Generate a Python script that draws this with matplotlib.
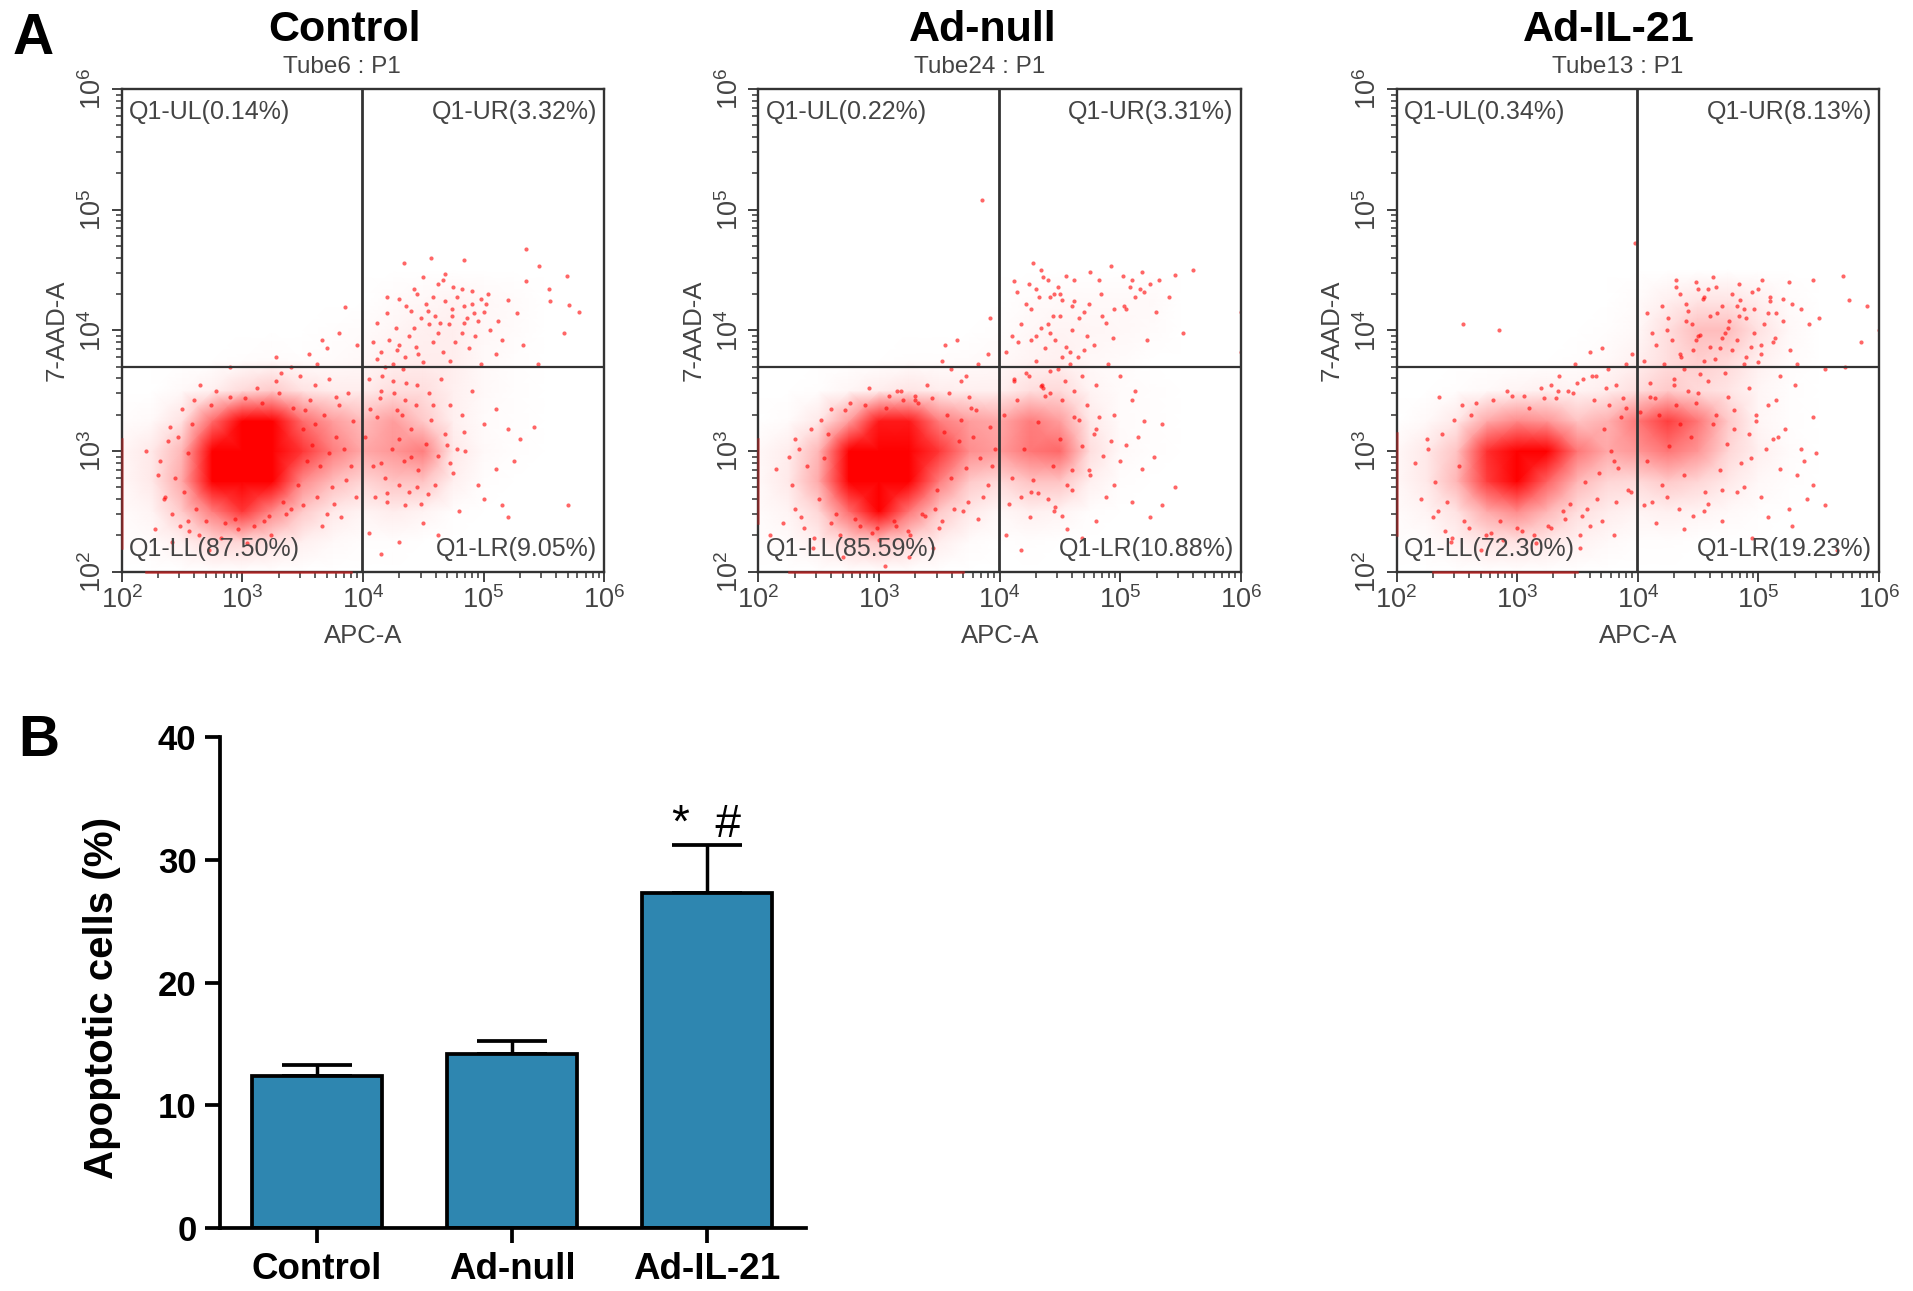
import numpy as np
import matplotlib
matplotlib.use("Agg")
import matplotlib.pyplot as plt
from matplotlib.colors import LinearSegmentedColormap
from matplotlib.ticker import LogLocator, FixedLocator, FixedFormatter, NullFormatter

plt.rcParams['font.family'] = ['Liberation Sans', 'DejaVu Sans']
plt.rcParams['mathtext.default'] = 'regular'

W, H = 1913, 1291

# Panel A. Every event of the original cannot be read off the picture, so the
# packed clouds are a coarse density table read by eye (log10 positions) and
# the dots are the ones that can be made out individually (also log10).
grid_x = [2.0, 2.25, 2.5, 2.75, 3.0, 3.25, 3.5, 3.75, 4.0, 4.25, 4.5, 4.75, 5.0, 5.25, 5.5]
grid_y = [2.0, 2.25, 2.5, 2.75, 3.0, 3.25, 3.5, 3.75, 4.0, 4.25, 4.5]

control_density = [
    [0, 0, 0, 0, 0, 0, 0, 0, 0, 0, 0, 0, 0, 0, 0],
    [1, 2, 8, 20, 22, 16, 8, 3, 1, 1, 0, 0, 0, 0, 0],
    [2, 6, 26, 50, 70, 46, 26, 12, 6, 10, 6, 1, 0, 0, 0],
    [4, 12, 36, 95, 100, 100, 46, 30, 22, 28, 28, 8, 1, 0, 0],
    [5, 12, 32, 100, 100, 100, 70, 50, 36, 42, 50, 12, 3, 1, 0],
    [1, 3, 16, 55, 100, 90, 55, 40, 30, 40, 26, 8, 2, 1, 0],
    [0, 0, 3, 8, 20, 26, 16, 10, 10, 18, 18, 8, 3, 1, 0],
    [0, 0, 0, 0, 1, 2, 1, 2, 4, 8, 10, 9, 3, 1, 0],
    [0, 0, 0, 0, 0, 0, 0, 1, 2, 5, 8, 9, 4, 2, 0],
    [0, 0, 0, 0, 0, 0, 0, 0, 0, 2, 4, 6, 4, 2, 0],
    [0, 0, 0, 0, 0, 0, 0, 0, 0, 0, 0, 0, 0, 0, 0],
]
adnull_density = [
    [0, 0, 0, 0, 0, 0, 0, 0, 0, 0, 0, 0, 0, 0, 0],
    [1, 2, 9, 22, 28, 20, 9, 2, 0, 1, 0, 0, 0, 0, 0],
    [2, 6, 22, 55, 85, 52, 26, 12, 4, 8, 6, 1, 0, 0, 0],
    [3, 12, 36, 90, 100, 100, 50, 26, 20, 28, 28, 8, 1, 0, 0],
    [4, 10, 32, 90, 100, 100, 70, 45, 40, 52, 56, 18, 3, 1, 0],
    [0, 2, 12, 40, 78, 78, 50, 40, 36, 50, 40, 12, 2, 1, 0],
    [0, 0, 1, 5, 10, 14, 10, 8, 8, 18, 20, 6, 2, 1, 0],
    [0, 0, 0, 0, 0, 1, 1, 2, 3, 6, 8, 4, 2, 0, 0],
    [0, 0, 0, 0, 0, 0, 0, 0, 1, 4, 6, 5, 4, 2, 0],
    [0, 0, 0, 0, 0, 0, 0, 0, 0, 2, 3, 3, 3, 3, 0],
    [0, 0, 0, 0, 0, 0, 0, 0, 0, 0, 0, 0, 0, 0, 0],
]
il21_density = [
    [0, 0, 0, 0, 0, 0, 0, 0, 0, 0, 0, 0, 0, 0, 0],
    [1, 1, 7, 14, 16, 12, 7, 3, 1, 1, 0, 0, 0, 0, 0],
    [2, 6, 16, 36, 46, 32, 18, 10, 6, 8, 6, 3, 1, 0, 0],
    [4, 12, 32, 68, 85, 58, 32, 22, 20, 26, 22, 12, 4, 1, 0],
    [4, 12, 28, 72, 95, 85, 52, 36, 42, 52, 42, 22, 8, 2, 0],
    [0, 3, 12, 36, 46, 42, 28, 34, 52, 68, 52, 26, 5, 1, 0],
    [0, 0, 1, 3, 6, 8, 6, 10, 18, 26, 20, 14, 5, 1, 0],
    [0, 0, 0, 0, 0, 0, 1, 3, 8, 18, 24, 20, 8, 2, 0],
    [0, 0, 0, 0, 0, 0, 0, 1, 4, 18, 30, 30, 16, 4, 0],
    [0, 0, 0, 0, 0, 0, 0, 0, 2, 8, 14, 14, 8, 2, 0],
    [0, 0, 0, 0, 0, 0, 0, 0, 0, 0, 0, 0, 0, 0, 0],
]

control_x = [5.35, 4.56, 4.84, 4.34, 5.46, 5.69, 4.68, 5.35, 5.54, 5.79, 5.55, 5.71, 5.67, 5.00, 5.28, 4.84, 4.62, 4.75,
             4.90, 4.45, 4.52, 4.30, 4.20, 4.12, 4.27, 4.38, 4.60, 4.71, 4.82, 4.95, 5.05, 5.15, 4.58, 4.66, 4.44, 4.35,
             4.25, 4.50, 4.72, 4.88, 5.10, 5.20, 4.98, 4.78, 4.55, 4.40, 4.15, 4.08, 4.22, 4.33, 4.48, 4.62, 4.74, 4.86,
             5.02, 4.93, 4.68, 4.42, 4.30, 4.18, 5.33, 5.45, 4.05, 4.15, 4.25, 4.35, 4.45, 4.55, 4.65, 4.72, 4.82, 4.90,
             5.00, 5.10, 5.20, 5.30, 5.42, 5.25, 5.10, 4.95, 5.00, 5.15, 5.20, 5.70, 4.80, 4.50, 4.62, 4.30, 4.15, 4.05,
             4.35, 4.20, 4.45, 4.60, 4.75, 4.85, 4.70, 4.40, 4.15, 4.30, 2.20, 2.30, 2.40, 2.35, 2.50, 2.60, 2.65, 2.90,
             3.32, 3.40, 3.55, 3.70, 3.85, 3.60, 3.72, 3.28, 3.95, 3.80, 3.48, 3.66, 2.28, 2.55, 2.42, 2.72, 3.62, 3.78,
             2.32, 2.38, 2.44, 2.47, 2.52, 2.55, 2.58, 2.62, 2.36, 2.42,
             2.48, 2.56, 2.64, 2.70, 2.74, 2.82, 2.90, 2.96, 3.04, 3.12,
             3.18, 3.24, 3.30, 3.36, 3.42, 3.50, 3.56, 3.62, 3.68, 3.74,
             3.80, 3.86, 3.92, 3.50, 3.58, 3.64, 3.72, 3.78, 3.84, 3.90,
             3.46, 3.54, 3.60, 3.70, 3.76, 3.88, 3.94, 3.52, 3.66, 3.82,
             2.78, 2.86, 2.94, 3.02, 3.10, 3.16, 3.22, 3.28, 3.34, 3.40,
             4.02, 4.08, 4.12, 4.18, 4.24, 4.28, 4.34, 4.40, 4.46, 4.52,
             4.56, 4.62, 4.68, 4.72, 4.78, 4.84, 4.10, 4.20, 4.30, 4.38,
             4.48, 4.54, 4.14, 4.26, 4.36, 4.44, 4.06, 4.16, 4.32, 4.58,
             4.42, 4.50, 4.58, 4.66, 4.74, 4.82, 4.90, 4.98, 4.36, 4.46,
             4.54, 4.64, 4.76, 4.84, 4.92, 5.04, 5.12, 4.28, 4.20, 4.12]
control_y = [4.67, 4.60, 4.58, 4.56, 4.53, 4.45, 4.47, 4.41, 4.34, 4.15, 4.24, 4.21, 3.98, 4.15, 4.14, 4.20, 4.38, 4.36,
             4.33, 4.30, 4.22, 4.26, 4.14, 4.06, 4.02, 3.95, 4.12, 4.05, 3.98, 4.08, 4.00, 3.92, 3.90, 3.82, 3.86, 3.78,
             3.72, 3.74, 3.75, 3.85, 3.80, 4.25, 3.72, 4.28, 4.05, 4.16, 3.82, 3.90, 3.92, 3.68, 4.10, 3.98, 4.18, 4.10,
             4.22, 3.95, 4.24, 4.02, 3.88, 3.70, 3.88, 3.72, 3.60, 3.50, 3.58, 3.42, 3.55, 3.48, 3.60, 3.38, 3.30, 3.50,
             3.22, 3.35, 3.18, 3.10, 3.20, 2.92, 2.85, 2.72, 2.60, 2.55, 2.45, 2.55, 2.50, 2.40, 2.30, 2.25, 2.15, 2.32,
             2.55, 2.65, 2.70, 2.72, 2.82, 3.00, 3.05, 2.95, 2.90, 3.10, 3.00, 2.80, 3.20, 2.60, 3.35, 3.42, 3.55, 3.70,
             3.65, 3.70, 3.80, 3.85, 4.19, 3.55, 3.60, 3.78, 3.88, 3.98, 3.62, 3.92, 2.35, 2.42, 2.25, 2.18, 3.72, 3.45,
             2.92, 3.08, 2.78, 3.12, 2.66, 2.98, 3.22, 2.52, 2.62, 2.48,
             2.38, 2.34, 2.30, 2.42, 3.38, 2.28, 3.45, 2.35, 2.24, 3.52,
             2.42, 2.30, 3.48, 2.48, 3.36, 2.55, 3.42, 2.62, 3.30, 2.70,
             3.38, 2.76, 3.25, 3.18, 3.05, 2.88, 2.98, 3.12, 3.02, 2.88,
             2.72, 2.92, 3.22, 2.48, 2.56, 3.48, 2.62, 3.34, 2.38, 2.45,
             3.50, 2.40, 2.44, 3.44, 2.38, 3.40, 2.46, 3.58, 2.58, 2.52,
             3.12, 2.88, 3.28, 2.78, 3.02, 3.34, 2.92, 3.18, 2.84, 3.06,
             3.26, 2.96, 3.14, 2.90, 3.02, 3.16, 2.62, 2.58, 2.72, 2.66,
             2.56, 2.64, 3.44, 3.48, 3.56, 3.38, 3.35, 3.62, 3.30, 3.38,
             4.34, 4.44, 4.28, 4.42, 4.12, 4.34, 4.22, 4.26, 4.20, 3.80,
             4.16, 4.06, 3.90, 4.06, 4.14, 4.30, 4.08, 3.84, 4.28, 3.76]

adnull_x = [3.85, 3.92, 4.12, 4.24, 4.28, 4.34, 4.40, 4.45, 4.48, 4.55, 4.62, 4.75, 4.82, 4.92, 5.02, 5.10, 5.18, 5.25, 5.32,
            5.45, 5.60, 6.00, 5.20, 5.12, 5.03, 4.95, 4.85, 4.70, 4.62, 4.52, 4.42, 4.33, 4.26, 4.18, 4.10, 4.05, 4.15,
            4.30, 4.40, 4.50, 4.60, 4.72, 4.88, 5.05, 5.30, 5.40, 5.52, 4.38, 4.46, 4.55, 4.65, 4.78, 4.90, 4.30, 4.22,
            4.12, 4.35, 4.48, 4.58, 4.68, 4.80, 5.00, 5.12, 6.00, 4.42, 4.52, 4.62, 4.72, 4.82, 4.95, 5.10, 5.20, 5.35,
            5.05, 5.15, 5.28, 5.45, 4.95, 5.10, 5.25, 5.35, 5.18, 5.00, 4.75, 4.60, 4.40, 4.25, 4.05, 4.18, 4.32, 4.45,
            4.56, 4.68, 4.80, 4.88, 2.10, 2.15, 2.25, 2.35, 2.30, 2.45, 2.70, 3.05, 3.25, 3.45, 3.52, 3.60, 3.72, 3.90,
            3.65, 3.40, 3.75, 3.82, 3.15, 2.60, 2.20, 3.30, 3.55, 3.68,
            2.28, 2.34, 2.40, 2.44, 2.50, 2.54, 2.58, 2.64, 2.30, 2.38,
            2.46, 2.52, 2.60, 2.68, 2.72, 2.80, 2.88, 2.94, 3.00, 3.08,
            3.14, 3.20, 3.26, 3.32, 3.38, 3.44, 3.50, 3.56, 3.62, 3.68,
            3.74, 3.80, 3.86, 3.92, 3.48, 3.54, 3.60, 3.66, 3.72, 3.78,
            3.84, 3.90, 3.96, 3.46, 3.52, 3.58, 3.70, 3.76, 3.82, 3.94,
            2.76, 2.84, 2.92, 2.98, 3.06, 3.12, 3.18, 3.24, 3.30, 3.36,
            4.04, 4.10, 4.14, 4.20, 4.26, 4.32, 4.38, 4.44, 4.50, 4.56,
            4.62, 4.68, 4.74, 4.80, 4.86, 4.92, 4.08, 4.18, 4.28, 4.36,
            4.46, 4.52, 4.60, 4.12, 4.24, 4.34, 4.42, 4.54, 4.66, 4.78,
            4.22, 4.30, 4.36, 4.44, 4.50, 4.58, 4.66, 4.74, 4.84, 5.08,
            4.14, 4.26, 4.34, 4.42, 4.52, 4.60, 4.70, 4.94, 5.16, 5.22]
adnull_y = [5.08, 4.10, 4.41, 4.38, 4.56, 4.50, 4.42, 4.30, 4.36, 4.45, 4.42, 4.48, 4.42, 4.53, 4.45, 4.42, 4.48, 4.38, 4.42,
            4.46, 4.50, 4.15, 4.32, 4.28, 4.20, 4.18, 4.12, 4.15, 4.24, 4.25, 4.28, 4.28, 4.18, 4.05, 3.95, 3.82, 3.90,
            3.95, 4.05, 4.12, 4.00, 3.95, 4.06, 4.18, 4.15, 4.28, 3.98, 3.85, 3.92, 3.86, 3.78, 3.88, 3.72, 3.75, 3.65,
            3.60, 3.55, 3.68, 3.72, 3.62, 3.55, 3.62, 3.50, 3.82, 3.48, 3.42, 3.50, 3.38, 3.28, 3.30, 3.42, 3.25, 3.22,
            3.05, 3.12, 2.95, 2.70, 2.72, 2.58, 2.45, 2.55, 2.85, 2.92, 2.80, 2.68, 2.60, 2.45, 2.30, 2.18, 2.65, 2.50,
            2.35, 2.28, 2.42, 2.62, 2.30, 2.85, 2.95, 2.45, 3.10, 2.20, 2.12, 2.05, 2.12, 2.20, 3.75, 3.68, 3.62, 3.80,
            3.92, 3.55, 3.45, 3.72, 3.50, 3.35, 2.40, 3.42, 3.88, 3.58,
            2.72, 3.02, 2.88, 3.18, 2.60, 2.94, 3.14, 2.48, 2.52, 2.36,
            2.28, 3.26, 2.40, 2.30, 3.34, 2.44, 3.38, 2.32, 2.26, 3.46,
            2.38, 3.42, 2.30, 3.40, 2.46, 3.44, 2.36, 3.30, 2.52, 3.26,
            2.58, 3.34, 2.62, 3.20, 2.68, 3.16, 2.78, 3.08, 2.86, 3.12,
            2.94, 2.72, 3.02, 2.52, 2.42, 3.48, 2.50, 3.36, 2.44, 2.88,
            3.40, 2.38, 3.52, 2.36, 3.36, 2.42, 3.50, 2.34, 3.46, 2.48,
            3.30, 2.78, 3.42, 3.02, 2.66, 3.24, 3.46, 2.88, 3.10, 2.72,
            3.28, 3.04, 2.84, 3.18, 2.96, 3.08, 2.56, 2.62, 2.76, 3.52,
            2.54, 2.46, 2.84, 3.58, 3.62, 3.54, 3.66, 3.58, 3.26, 3.14,
            4.22, 4.34, 4.44, 4.12, 4.30, 3.82, 4.10, 4.22, 4.30, 4.36,
            4.32, 3.92, 4.02, 3.98, 3.78, 4.20, 3.84, 3.94, 4.34, 3.92]

il21_x = [3.98, 4.32, 4.48, 4.62, 4.84, 5.03, 5.25, 5.45, 5.70, 5.75, 5.90, 6.00, 5.35, 5.50, 5.42, 5.20, 5.10, 4.95, 4.78,
          4.65, 4.50, 4.35, 4.20, 4.08, 4.12, 4.25, 4.40, 4.55, 4.70, 4.85, 5.00, 5.15, 5.28, 4.45, 4.60, 4.75, 4.90,
          5.05, 4.28, 4.15, 4.05, 4.35, 4.50, 4.68, 4.82, 4.96, 5.12, 4.22, 4.38, 4.55, 4.72, 4.88, 5.02, 5.18, 5.32,
          5.55, 5.72, 5.85, 4.30, 4.42, 4.58, 4.75, 4.92, 5.08, 4.10, 4.18, 4.35, 4.48, 4.65, 4.80, 4.98, 5.15, 5.30,
          5.45, 5.12, 5.22, 5.35, 5.48, 5.18, 5.32, 5.45, 5.55, 5.02, 4.88, 5.08, 5.28, 5.40, 4.55, 4.70, 4.38, 4.15,
          4.05, 4.95, 5.65, 5.38, 5.25, 2.55, 2.85, 2.35, 2.20, 2.30, 2.45, 3.35, 3.48, 3.60, 3.75, 3.90, 3.55, 3.70,
          3.82, 3.42, 3.28, 3.95, 3.65, 2.25, 2.15, 3.80, 3.52, 2.70,
          2.26, 2.32, 2.38, 2.42, 2.48, 2.52, 2.56, 2.62, 2.34, 2.40,
          2.46, 2.54, 2.60, 2.66, 2.74, 2.80, 2.88, 2.96, 3.04, 3.10,
          3.16, 3.22, 3.28, 3.34, 3.40, 3.46, 3.52, 3.58, 3.64, 3.70,
          3.76, 3.82, 3.88, 3.94, 3.50, 3.56, 3.62, 3.68, 3.74, 3.80,
          3.86, 3.92, 3.44, 3.54, 3.60, 3.66, 3.72, 3.78, 3.84, 3.90,
          2.78, 2.86, 2.92, 3.00, 3.06, 3.14, 3.20, 3.26, 3.32, 3.38,
          4.02, 4.08, 4.14, 4.20, 4.26, 4.32, 4.38, 4.44, 4.50, 4.56,
          4.62, 4.68, 4.74, 4.80, 4.86, 4.92, 4.98, 4.12, 4.24, 4.34,
          4.46, 4.58, 4.70, 4.82, 4.94, 5.06, 5.16, 4.10, 4.30, 4.52,
          4.36, 4.42, 4.48, 4.54, 4.60, 4.66, 4.72, 4.78, 4.84, 4.90,
          4.96, 5.02, 5.08, 5.14, 5.20, 5.26, 4.32, 4.40, 4.52, 4.64,
          4.76, 4.88, 5.00, 5.10, 4.58, 4.70, 4.82, 4.94, 4.46, 4.24]
il21_y = [4.72, 4.42, 4.40, 4.44, 4.38, 4.42, 4.40, 4.42, 4.45, 4.25, 4.20, 4.00, 4.18, 4.10, 4.05, 4.08, 4.28, 4.32, 4.30,
          4.36, 4.34, 4.30, 4.20, 4.14, 3.98, 4.10, 4.22, 4.28, 4.20, 4.25, 4.34, 4.14, 4.22, 4.05, 4.12, 4.02, 4.10,
          4.05, 3.92, 3.88, 3.75, 3.80, 3.95, 3.85, 3.92, 3.98, 3.90, 3.72, 3.68, 3.75, 3.65, 3.72, 3.80, 3.62, 3.72,
          3.68, 3.70, 3.90, 3.55, 3.50, 3.58, 3.45, 3.52, 3.38, 3.45, 3.30, 3.22, 3.40, 3.30, 3.18, 3.25, 3.42, 3.55,
          3.28, 3.10, 3.18, 3.02, 2.98, 2.85, 2.80, 2.72, 2.55, 2.62, 2.70, 2.45, 2.38, 2.60, 2.50, 2.68, 2.35, 2.40,
          2.55, 2.28, 2.18, 2.92, 2.52, 4.05, 4.00, 3.45, 2.60, 2.45, 2.25, 3.62, 3.72, 3.82, 3.68, 3.72, 3.60, 3.85,
          3.55, 3.50, 3.55, 3.80, 3.62, 3.10, 2.90, 2.30, 2.20, 2.18,
          3.02, 2.74, 3.14, 2.58, 3.26, 2.88, 2.42, 3.30, 2.50, 2.34,
          2.28, 3.38, 2.36, 3.40, 2.30, 3.42, 2.26, 3.46, 2.34, 3.36,
          2.24, 3.44, 2.36, 3.50, 2.44, 3.48, 2.30, 2.52, 3.42, 2.42,
          3.38, 2.58, 3.44, 2.66, 3.56, 2.74, 3.62, 2.82, 3.52, 2.92,
          3.28, 2.68, 2.56, 2.46, 2.38, 2.60, 3.18, 3.00, 2.86, 3.36,
          2.32, 2.42, 3.50, 2.36, 3.46, 2.30, 3.52, 2.38, 3.44, 2.50,
          3.32, 2.92, 3.44, 2.72, 3.04, 3.38, 2.80, 3.12, 3.48, 2.66,
          3.22, 2.84, 3.06, 3.34, 2.90, 3.14, 3.30, 2.58, 2.62, 2.52,
          2.46, 2.56, 2.42, 2.66, 2.94, 3.02, 3.12, 3.56, 3.60, 3.64,
          3.78, 4.16, 3.92, 4.26, 3.86, 4.14, 3.98, 3.84, 4.12, 3.78,
          4.18, 3.88, 4.14, 3.94, 4.26, 3.84, 4.36, 4.08, 3.96, 3.76,
          4.08, 4.18, 3.74, 4.24, 4.34, 3.94, 4.20, 3.86, 3.84, 4.00]

panel_names = ["Control", "Ad-null", "Ad-IL-21"]
tube_names = ["Tube6 : P1", "Tube24 : P1", "Tube13 : P1"]
densities = [control_density, adnull_density, il21_density]
dots_x = [control_x, adnull_x, il21_x]
dots_y = [control_y, adnull_y, il21_y]
gate_x = 9800
gate_y = 5000
ul_labels = ["Q1-UL(0.14%)", "Q1-UL(0.22%)", "Q1-UL(0.34%)"]
ur_labels = ["Q1-UR(3.32%)", "Q1-UR(3.31%)", "Q1-UR(8.13%)"]
ll_labels = ["Q1-LL(87.50%)", "Q1-LL(85.59%)", "Q1-LL(72.30%)"]
lr_labels = ["Q1-LR(9.05%)", "Q1-LR(10.88%)", "Q1-LR(19.23%)"]
# events piled on the axes, log10 start and end
bottom_pile = [(2.2, 3.9), (2.25, 3.7), (2.3, 3.5)]
left_pile = [(2.2, 3.1), (2.4, 3.1), (2.3, 3.15)]
decades = [100, 1000, 10000, 100000, 1000000]
decade_labels = [r"$10^{2}$", r"$10^{3}$", r"$10^{4}$", r"$10^{5}$", r"$10^{6}$"]

# Panel B
groups = ["Control", "Ad-null", "Ad-IL-21"]
apoptotic = [12.4, 14.2, 27.3]
apoptotic_err = [0.9, 1.0, 3.9]

fig = plt.figure(figsize=(W / 100, H / 100), dpi=100)


def add_axes_px(left, top, right, bottom):
    return fig.add_axes([left / W, 1 - bottom / H, (right - left) / W, (bottom - top) / H])


def text_px(x, y, s, **kw):
    kw.setdefault("ha", "center")
    kw.setdefault("va", "center")
    fig.text(x / W, 1 - y / H, s, **kw)


red_map = LinearSegmentedColormap.from_list(
    "cloud", [(0, "#ffffff"), (0.25, "#ffd8d8"), (0.6, "#ff7a7a"), (1, "#ff0000")])
gray = "#444444"
panel_lefts = [121.7, 758.4, 1396.5]
panel_w = 482.5

for i, left in enumerate(panel_lefts):
    ax = add_axes_px(left, 89, left + panel_w, 571.7)
    ax.set_xscale("log")
    ax.set_yscale("log")
    ax.pcolormesh(10.0 ** np.array(grid_x), 10.0 ** np.array(grid_y), np.array(densities[i]),
                  cmap=red_map, vmin=0, vmax=85, shading="gouraud", zorder=1)
    ax.scatter(10.0 ** np.array(dots_x[i]), 10.0 ** np.array(dots_y[i]), s=9, color="#ff0000",
               alpha=0.6, linewidths=0, zorder=2)
    ax.plot(10.0 ** np.array(bottom_pile[i]), [100, 100], color="#d02020", lw=1.8, alpha=0.7, zorder=6, clip_on=False)
    ax.plot([100, 100], 10.0 ** np.array(left_pile[i]), color="#d02020", lw=1.8, alpha=0.5, zorder=6, clip_on=False)
    ax.axvline(gate_x, color="#333333", lw=2.0, zorder=3)
    ax.axhline(gate_y, color="#333333", lw=1.6, zorder=3)
    ax.set_xlim(100, 1000000)
    ax.set_ylim(100, 1000000)
    for side in ax.spines.values():
        side.set_color("#333333")
        side.set_linewidth(1.7)

    for axis in (ax.xaxis, ax.yaxis):
        axis.set_major_locator(FixedLocator(decades))
        axis.set_major_formatter(FixedFormatter(decade_labels))
        axis.set_minor_locator(LogLocator(base=10, subs=range(2, 10), numticks=20))
        axis.set_minor_formatter(NullFormatter())
    ax.tick_params(which="major", length=7.5, width=1.3, color="#333333", labelcolor=gray, labelsize=19.5, pad=3)
    ax.tick_params(which="minor", length=4, width=1.1, color="#333333")
    plt.setp(ax.get_yticklabels(), rotation=90, va="center")

    ax.text(0.015, 0.953, ul_labels[i], transform=ax.transAxes, color=gray, fontsize=18, ha="left", va="center")
    ax.text(0.985, 0.953, ur_labels[i], transform=ax.transAxes, color=gray, fontsize=18, ha="right", va="center")
    ax.text(0.015, 0.046, ll_labels[i], transform=ax.transAxes, color=gray, fontsize=18, ha="left", va="center", zorder=7)
    ax.text(0.985, 0.046, lr_labels[i], transform=ax.transAxes, color=gray, fontsize=18, ha="right", va="center", zorder=7)

    text_px(left + panel_w / 2, 636, "APC-A", color=gray, fontsize=18.5)
    text_px(left - 65, 330, "7-AAD-A", color=gray, fontsize=18.5, rotation=90)

for x, name in zip([342, 980, 1618], tube_names):
    text_px(x, 67, name, color=gray, fontsize=17.5)
for x, name in zip([345, 983, 1609], panel_names):
    text_px(x, 30, name, color="black", fontsize=31, fontweight="bold")

text_px(33, 39, "A", color="black", fontsize=41, fontweight="bold")
text_px(39, 741, "B", color="black", fontsize=41, fontweight="bold")

# bar panel
bx = add_axes_px(220, 737, 806, 1228)
pos = np.arange(len(groups))
bx.bar(pos, apoptotic, width=0.667, color="#2e86b0", edgecolor="black", linewidth=2.7, zorder=2)
bx.errorbar(pos, apoptotic, yerr=[[0, 0, 0], apoptotic_err], fmt="none", ecolor="black", elinewidth=2.5,
            capsize=25, capthick=2.7, zorder=1)
bx.set_xlim(-0.497, 2.508)
bx.set_ylim(0, 40)
bx.set_xticks(pos)
bx.set_xticklabels(groups, fontsize=26.5, fontweight="bold")
bx.set_yticks([0, 10, 20, 30, 40])
bx.tick_params(axis="both", length=11, width=2.7, pad=6)
bx.tick_params(axis="y", labelsize=25)
plt.setp(bx.get_yticklabels(), fontweight="bold")
bx.spines["top"].set_visible(False)
bx.spines["right"].set_visible(False)
bx.spines["left"].set_linewidth(2.7)
bx.spines["bottom"].set_linewidth(2.7)
bx.text(2, 31.0, "*  #", fontsize=33, ha="center", va="bottom")
text_px(102, 998, "Apoptotic cells (%)", color="black", fontsize=29, fontweight="bold", rotation=90)

fig.savefig("out.png", dpi=100)
